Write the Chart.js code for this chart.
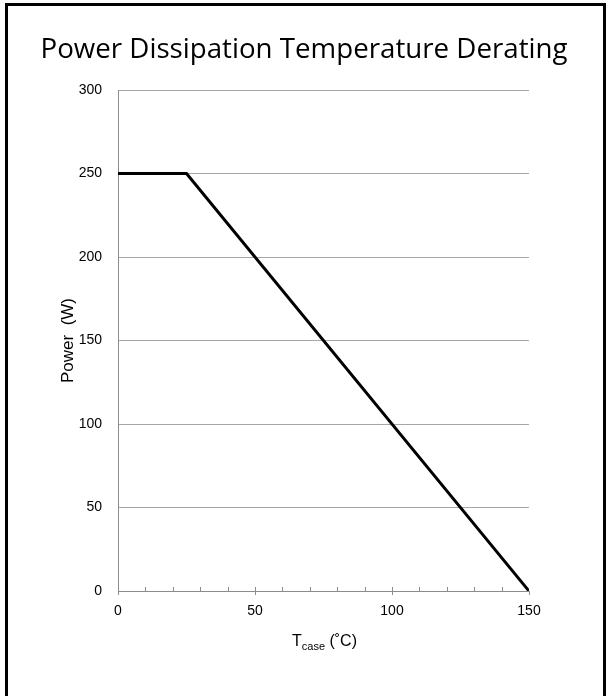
<!DOCTYPE html>
<html>
<head>
    <title>Power Dissipation Temperature Derating</title>
    <style>
        html, body {
            margin: 0;
            padding: 0;
            background: #ffffff;
            overflow: hidden;
        }
        #frame {
            position: absolute;
            left: 5px;
            top: 3px;
            width: 601px;
            height: 720px;
            box-sizing: border-box;
            border: 3px solid #000;
        }
        #chart-container {
            position: absolute;
            left: 0;
            top: 0;
            width: 609px;
            height: 696px;
        }
    </style>
    <script src="https://cdn.jsdelivr.net/npm/chart.js"></script>
</head>
<body>
    <div id="frame"></div>
    <div id="chart-container">
        <canvas id="chart"></canvas>
    </div>
    <script>
        // data
        const caseTemps = [0, 25, 150];
        const powerValues = [250, 250, 0];
        const xTicks = [0, 50, 100, 150];
        const yTicks = [0, 50, 100, 150, 200, 250, 300];
        const minorTicks = [10, 20, 30, 40, 50, 60, 70, 80, 90, 100, 110, 120, 130, 140];

        const chartTitle = 'Power Dissipation Temperature Derating';
        const axisGray = '#8c8c8c';
        const gridGray = '#a6a6a6';

        // title centred on the page, small upward ticks on the x axis, subscripted axis title
        const extrasPlugin = {
            id: 'extras',
            afterDraw(chart) {
                const ctx = chart.ctx;
                const x = chart.scales.x;
                const yPix = chart.chartArea.bottom;
                ctx.save();

                ctx.fillStyle = '#000';
                ctx.textAlign = 'center';
                ctx.textBaseline = 'alphabetic';
                ctx.font = '27.7px "Open Sans", "Noto Sans", sans-serif';
                ctx.fillText(chartTitle, 304, 58);

                ctx.strokeStyle = axisGray;
                ctx.lineWidth = 1;
                minorTicks.forEach(v => {
                    const px = Math.round(x.getPixelForValue(v)) + 0.5;
                    ctx.beginPath();
                    ctx.moveTo(px, yPix);
                    ctx.lineTo(px, yPix - 4);
                    ctx.stroke();
                });

                // T_case (°C)
                ctx.textAlign = 'left';
                const big = '16px "Liberation Sans", Arial, sans-serif';
                const small = '11px "Liberation Sans", Arial, sans-serif';
                const parts = [
                    { t: 'T', f: big, dy: 0 },
                    { t: 'case', f: small, dy: 4 },
                    { t: ' (\u02DAC)', f: big, dy: 0 }
                ];
                let total = 0;
                parts.forEach(p => { ctx.font = p.f; p.w = ctx.measureText(p.t).width; total += p.w; });
                const cx = (chart.chartArea.left + chart.chartArea.right) / 2 + 1;
                let px = cx - total / 2;
                const base = 646;
                parts.forEach(p => {
                    ctx.font = p.f;
                    ctx.fillText(p.t, px, base + p.dy);
                    px += p.w;
                });
                ctx.restore();
            }
        };

        const ctx = document.getElementById('chart').getContext('2d');
        new Chart(ctx, {
            type: 'line',
            data: {
                datasets: [{
                    data: caseTemps.map((t, i) => ({ x: t, y: powerValues[i] })),
                    borderColor: '#000',
                    borderWidth: 3,
                    pointRadius: 0,
                    fill: false,
                    tension: 0
                }]
            },
            options: {
                responsive: true,
                maintainAspectRatio: false,
                animation: false,
                layout: {
                    padding: { top: 90, right: 80, bottom: 0, left: 0 }
                },
                plugins: {
                    legend: { display: false },
                    tooltip: { enabled: false },
                    title: { display: false }
                },
                scales: {
                    x: {
                        type: 'linear',
                        min: 0,
                        max: 150,
                        afterBuildTicks: s => { s.ticks = xTicks.map(v => ({ value: v })); },
                        afterFit: s => { s.height = 105; },
                        ticks: {
                            color: '#000',
                            padding: 8,
                            maxRotation: 0,
                            font: { family: '"Liberation Sans", Arial, sans-serif', size: 14 }
                        },
                        grid: {
                            drawOnChartArea: false,
                            drawTicks: true,
                            tickLength: 4,
                            tickColor: axisGray
                        },
                        border: { display: true, color: axisGray, width: 1 }
                    },
                    y: {
                        min: 0,
                        max: 300,
                        afterBuildTicks: s => { s.ticks = yTicks.map(v => ({ value: v })); },
                        afterFit: s => { s.width = 118; },
                        ticks: {
                            color: '#000',
                            padding: 16,
                            font: { family: '"Liberation Sans", Arial, sans-serif', size: 14 }
                        },
                        grid: {
                            color: gridGray,
                            drawTicks: false
                        },
                        border: { display: true, color: axisGray, width: 1 },
                        title: {
                            display: true,
                            text: 'Power  (W)',
                            color: '#000',
                            font: { family: '"Liberation Sans", Arial, sans-serif', size: 17 },
                            padding: { top: 58, bottom: 0 }
                        }
                    }
                }
            },
            plugins: [extrasPlugin]
        });
    </script>
</body>
</html>
